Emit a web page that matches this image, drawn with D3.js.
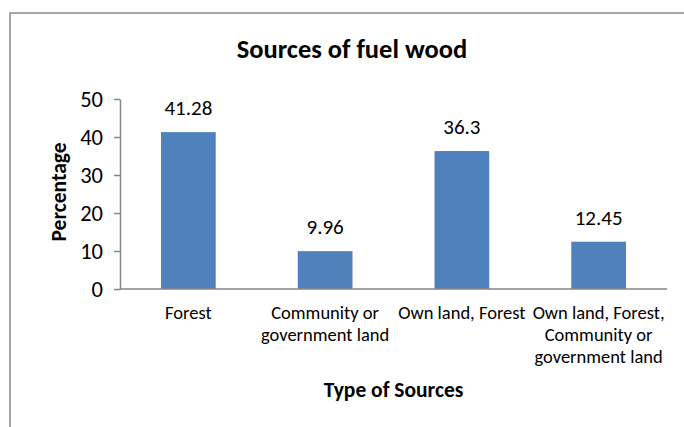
<!DOCTYPE html>
<html lang="en">
<head>
<meta charset="utf-8">
<title>Sources of fuel wood</title>
<script src="https://cdn.jsdelivr.net/npm/d3@7"></script>
<style>
  body { margin: 0; background: #fff; }
  svg { display: block; font-family: Carlito, Lato, "Open Sans", sans-serif; }
</style>
</head>
<body>
<svg width="684" height="427"></svg>
<script>
var categories = [
  ["Forest"],
  ["Community or", "government land"],
  ["Own land, Forest"],
  ["Own land, Forest,", "Community or", "government land"]
];
var values = [41.28, 9.96, 36.3, 12.45];
var valueLabels = ["41.28", "9.96", "36.3", "12.45"];
var yTicks = [0, 10, 20, 30, 40, 50];

var svg = d3.select("svg");

// chart frame (only top and left edges visible)
svg.append("path")
  .attr("d", "M10,427 V13 H684")
  .attr("fill", "none")
  .attr("stroke", "#8a8a8a")
  .attr("stroke-width", 1.5);

var plotLeft = 120, plotRight = 667, plotTop = 99, plotBottom = 289;

var x = d3.scaleBand()
  .domain(d3.range(values.length))
  .range([plotLeft, plotRight])
  .paddingInner(0.6)
  .paddingOuter(0.3);

var y = d3.scaleLinear().domain([0, 50]).range([plotBottom, plotTop]);

// y axis
var yAxis = svg.append("g")
  .attr("transform", "translate(" + plotLeft + ",0)")
  .call(d3.axisLeft(y).tickValues(yTicks).tickSize(6).tickSizeOuter(0).tickPadding(11))
  .attr("font-family", null)
  .attr("font-size", null);
yAxis.select(".domain").attr("stroke", "#868686").attr("stroke-width", 1.5);
yAxis.selectAll(".tick line").attr("stroke", "#868686").attr("stroke-width", 1.5);
yAxis.selectAll(".tick text").attr("font-size", 22.5).attr("fill", "#000");

// bars
svg.selectAll("rect.bar")
  .data(values)
  .enter()
  .append("rect")
  .attr("class", "bar")
  .attr("x", function (d, i) { return x(i); })
  .attr("y", function (d) { return y(d); })
  .attr("width", x.bandwidth())
  .attr("height", function (d) { return y(0) - y(d); })
  .attr("fill", "#4f81bd");

// x axis line
svg.append("line")
  .attr("x1", plotLeft).attr("x2", plotRight)
  .attr("y1", plotBottom).attr("y2", plotBottom)
  .attr("stroke", "#868686")
  .attr("stroke-width", 1.5);

// value labels
svg.selectAll("text.val")
  .data(values)
  .enter()
  .append("text")
  .attr("class", "val")
  .attr("x", function (d, i) { return x(i) + x.bandwidth() / 2; })
  .attr("y", function (d) { return y(d) - 17; })
  .attr("text-anchor", "middle")
  .attr("font-size", 21)
  .text(function (d, i) { return valueLabels[i]; });

// category labels
var cat = svg.selectAll("text.cat")
  .data(categories)
  .enter()
  .append("text")
  .attr("class", "cat")
  .attr("text-anchor", "middle")
  .attr("font-size", 18.5)
  .attr("fill", "#000");
cat.selectAll("tspan")
  .data(function (d, i) { return d.map(function (s) { return { s: s, i: i }; }); })
  .enter()
  .append("tspan")
  .attr("x", function (d) { return x(d.i) + x.bandwidth() / 2; })
  .attr("y", function (d, j) { return 319 + j * 22; })
  .text(function (d) { return d.s; });

// titles
svg.append("text")
  .attr("x", 352).attr("y", 58)
  .attr("text-anchor", "middle")
  .attr("font-size", 26.5)
  .attr("font-weight", "bold")
  .text("Sources of fuel wood");

svg.append("text")
  .attr("x", (plotLeft + plotRight) / 2).attr("y", 397)
  .attr("text-anchor", "middle")
  .attr("font-size", 21.5)
  .attr("font-weight", "bold")
  .text("Type of Sources");

svg.append("text")
  .attr("transform", "translate(66,192) rotate(-90)")
  .attr("text-anchor", "middle")
  .attr("font-size", 21.5)
  .attr("font-weight", "bold")
  .text("Percentage");
</script>
</body>
</html>
